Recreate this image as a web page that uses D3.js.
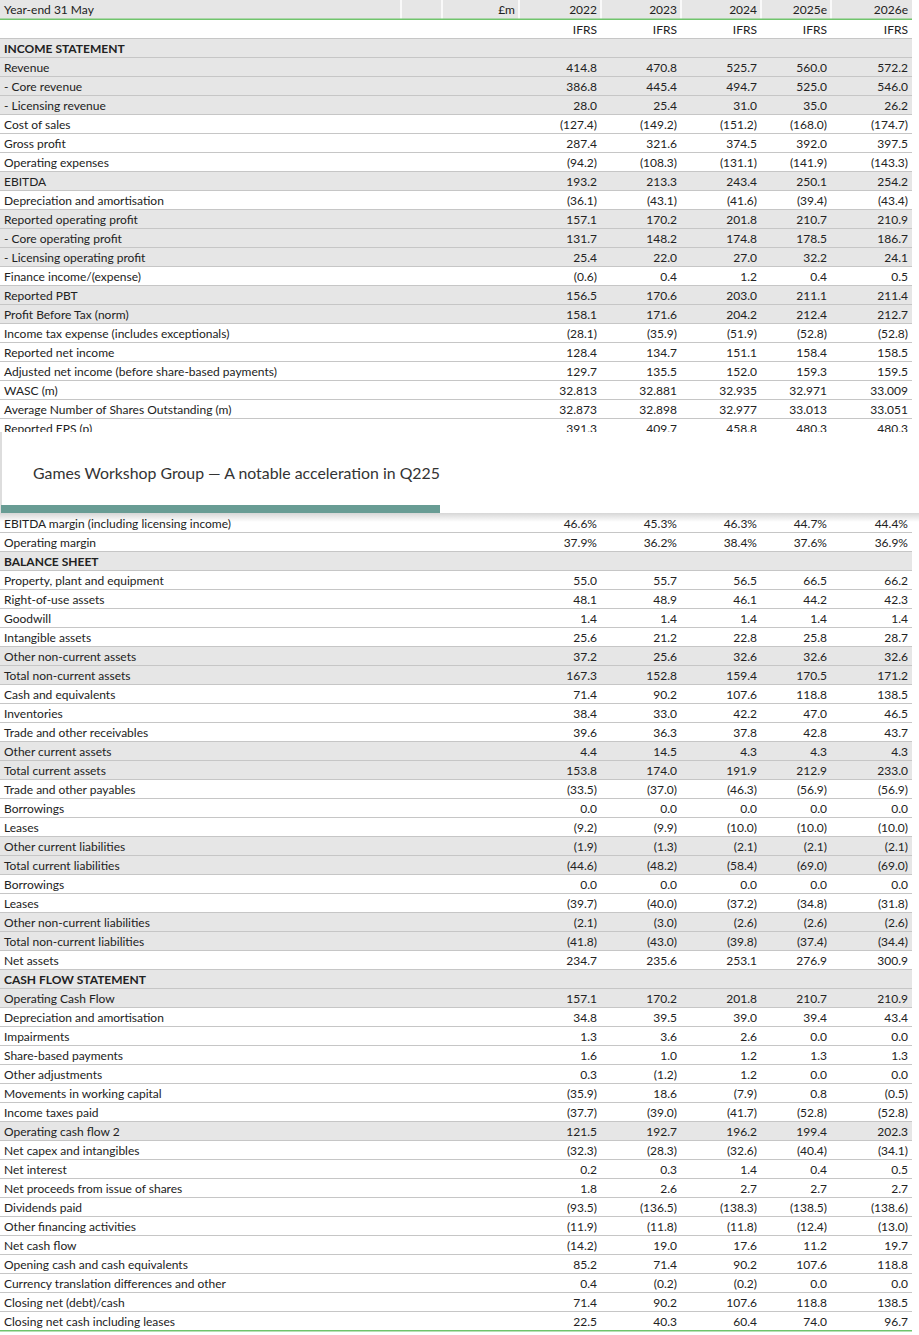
<!DOCTYPE html>
<html><head><meta charset="utf-8">
<script src="https://cdn.jsdelivr.net/npm/d3@7"></script>
<style>html,body{margin:0;padding:0;background:#fff;}svg{display:block;font-family:Lato,"Noto Sans",sans-serif;}</style>
</head><body><div id="chart"></div>
<script>
// ---------- DATA ----------
const title = "Games Workshop Group \u2014 A notable acceleration in Q225";
const headerLabel = "Year-end 31 May";
const unitLabel = "\u00a3m";
const years = ["2022", "2023", "2024", "2025e", "2026e"];
const standard = ["IFRS", "IFRS", "IFRS", "IFRS", "IFRS"];

// visible rows above the title panel
const labelsTop = [
  "INCOME STATEMENT", "Revenue", "- Core revenue", "- Licensing revenue", "Cost of sales", "Gross profit",
  "Operating expenses", "EBITDA", "Depreciation and amortisation", "Reported operating profit",
  "- Core operating profit", "- Licensing operating profit", "Finance income/(expense)", "Reported PBT",
  "Profit Before Tax (norm)", "Income tax expense (includes exceptionals)", "Reported net income",
  "Adjusted net income (before share-based payments)", "WASC (m)", "Average Number of Shares Outstanding (m)",
  "Reported EPS (p)"
];
// visible rows below the title panel
const labelsBottom = [
  "EBITDA margin (including licensing income)", "Operating margin", "BALANCE SHEET",
  "Property, plant and equipment", "Right-of-use assets", "Goodwill", "Intangible assets",
  "Other non-current assets", "Total non-current assets", "Cash and equivalents", "Inventories",
  "Trade and other receivables", "Other current assets", "Total current assets", "Trade and other payables",
  "Borrowings", "Leases", "Other current liabilities", "Total current liabilities", "Borrowings", "Leases",
  "Other non-current liabilities", "Total non-current liabilities", "Net assets", "CASH FLOW STATEMENT",
  "Operating Cash Flow", "Depreciation and amortisation", "Impairments", "Share-based payments",
  "Other adjustments", "Movements in working capital", "Income taxes paid", "Operating cash flow 2",
  "Net capex and intangibles", "Net interest", "Net proceeds from issue of shares", "Dividends paid",
  "Other financing activities", "Net cash flow", "Opening cash and cash equivalents",
  "Currency translation differences and other", "Closing net (debt)/cash", "Closing net cash including leases"
];

const sectionHeads = ["INCOME STATEMENT", "BALANCE SHEET", "CASH FLOW STATEMENT"];
const shareRows = ["WASC (m)", "Average Number of Shares Outstanding (m)"];
const marginRows = ["EBITDA margin (including licensing income)", "Operating margin"];

const v2022 = [null,414.8,386.8,28.0,-127.4,287.4,-94.2,193.2,-36.1,157.1,131.7,25.4,-0.6,156.5,158.1,-28.1,128.4,129.7,32.813,32.873,391.3,
  46.6,37.9,null,55.0,48.1,1.4,25.6,37.2,167.3,71.4,38.4,39.6,4.4,153.8,-33.5,0.0,-9.2,-1.9,-44.6,0.0,-39.7,-2.1,-41.8,234.7,null,
  157.1,34.8,1.3,1.6,0.3,-35.9,-37.7,121.5,-32.3,0.2,1.8,-93.5,-11.9,-14.2,85.2,0.4,71.4,22.5];
const v2023 = [null,470.8,445.4,25.4,-149.2,321.6,-108.3,213.3,-43.1,170.2,148.2,22.0,0.4,170.6,171.6,-35.9,134.7,135.5,32.881,32.898,409.7,
  45.3,36.2,null,55.7,48.9,1.4,21.2,25.6,152.8,90.2,33.0,36.3,14.5,174.0,-37.0,0.0,-9.9,-1.3,-48.2,0.0,-40.0,-3.0,-43.0,235.6,null,
  170.2,39.5,3.6,1.0,-1.2,18.6,-39.0,192.7,-28.3,0.3,2.6,-136.5,-11.8,19.0,71.4,-0.2,90.2,40.3];
const v2024 = [null,525.7,494.7,31.0,-151.2,374.5,-131.1,243.4,-41.6,201.8,174.8,27.0,1.2,203.0,204.2,-51.9,151.1,152.0,32.935,32.977,458.8,
  46.3,38.4,null,56.5,46.1,1.4,22.8,32.6,159.4,107.6,42.2,37.8,4.3,191.9,-46.3,0.0,-10.0,-2.1,-58.4,0.0,-37.2,-2.6,-39.8,253.1,null,
  201.8,39.0,2.6,1.2,1.2,-7.9,-41.7,196.2,-32.6,1.4,2.7,-138.3,-11.8,17.6,90.2,-0.2,107.6,60.4];
const v2025e = [null,560.0,525.0,35.0,-168.0,392.0,-141.9,250.1,-39.4,210.7,178.5,32.2,0.4,211.1,212.4,-52.8,158.4,159.3,32.971,33.013,480.3,
  44.7,37.6,null,66.5,44.2,1.4,25.8,32.6,170.5,118.8,47.0,42.8,4.3,212.9,-56.9,0.0,-10.0,-2.1,-69.0,0.0,-34.8,-2.6,-37.4,276.9,null,
  210.7,39.4,0.0,1.3,0.0,0.8,-52.8,199.4,-40.4,0.4,2.7,-138.5,-12.4,11.2,107.6,0.0,118.8,74.0];
const v2026e = [null,572.2,546.0,26.2,-174.7,397.5,-143.3,254.2,-43.4,210.9,186.7,24.1,0.5,211.4,212.7,-52.8,158.5,159.5,33.009,33.051,480.3,
  44.4,36.9,null,66.2,42.3,1.4,28.7,32.6,171.2,138.5,46.5,43.7,4.3,233.0,-56.9,0.0,-10.0,-2.1,-69.0,0.0,-31.8,-2.6,-34.4,300.9,null,
  210.9,43.4,0.0,1.3,0.0,-0.5,-52.8,202.3,-34.1,0.5,2.7,-138.6,-13.0,19.7,118.8,0.0,138.5,96.7];

// rows drawn with grey fill
const shadedLabels = new Set([
  "INCOME STATEMENT","Revenue","- Core revenue","- Licensing revenue","EBITDA","Reported operating profit",
  "- Core operating profit","- Licensing operating profit","Reported PBT","Profit Before Tax (norm)",
  "BALANCE SHEET","Other non-current assets","Total non-current assets","Other current assets","Total current assets",
  "Other current liabilities","Total current liabilities","Other non-current liabilities","Total non-current liabilities",
  "CASH FLOW STATEMENT","Operating Cash Flow","Operating cash flow 2"
]);

// ---------- LAYOUT ----------
const W = 919, H = 1335, rowH = 19, tableW = 912;
const colEdges = [0, 401, 442, 519, 601, 681, 761, 831, 912];
const hiddenRows = 4; // rows hidden behind the title panel
const grey = "#e6e6e6", lineC = "#c6c6c6", textC = "#222", green = "#70c46c", teal = "#689c94";

const allLabels = labelsTop.concat(labelsBottom);
const series = [v2022, v2023, v2024, v2025e, v2026e];
const rows = allLabels.map((lab, i) => ({
  label: lab,
  idx: i < labelsTop.length ? i + 2 : i + 2 + hiddenRows,
  values: series.map(s => s[i])
}));

// body rows start 1px lower because of the green rule under the header
const y = d3.scaleLinear().domain([0, 1]).range([0, rowH]);
const yb = i => y(i) + (i >= 1 ? 1 : 0);
const fmt1 = d3.format(".1f"), fmt3 = d3.format(".3f");
function fmt(v, lab) {
  if (v == null) return "";
  if (shareRows.includes(lab)) return fmt3(v);
  if (marginRows.includes(lab)) return fmt1(v) + "%";
  return v < 0 ? "(" + fmt1(-v) + ")" : fmt1(v);
}

const svg = d3.select("#chart").append("svg").attr("width", W).attr("height", H);
const fontSize = 12;

// header row
svg.append("rect").attr("x", 0).attr("y", 0).attr("width", tableW).attr("height", rowH).attr("fill", grey);
svg.selectAll("line.sep").data(colEdges.slice(1, -1)).join("line")
  .attr("x1", d => d).attr("x2", d => d).attr("y1", 0).attr("y2", rowH)
  .attr("stroke", "#fff").attr("stroke-width", 1.5);
svg.append("text").attr("x", 4).attr("y", 14).attr("font-size", fontSize).attr("fill", textC).text(headerLabel);
svg.append("text").attr("x", colEdges[3] - 4).attr("y", 14).attr("text-anchor", "end")
  .attr("font-size", fontSize).attr("fill", textC).text(unitLabel);
svg.selectAll("text.yr").data(years).join("text")
  .attr("x", (d, i) => colEdges[i + 4] - 4).attr("y", 14).attr("text-anchor", "end")
  .attr("font-size", fontSize).attr("fill", textC).text(d => d);
// IFRS row
svg.selectAll("text.std").data(standard).join("text")
  .attr("x", (d, i) => colEdges[i + 4] - 4).attr("y", yb(1) + 14).attr("text-anchor", "end")
  .attr("font-size", fontSize).attr("fill", textC).text(d => d);
svg.append("line").attr("x1", 0).attr("x2", tableW).attr("y1", yb(2) - 0.5).attr("y2", yb(2) - 0.5)
  .attr("stroke", lineC);

// body rows
const g = svg.selectAll("g.row").data(rows).join("g").attr("transform", d => `translate(0,${yb(d.idx)})`);
g.append("rect").attr("width", tableW).attr("height", rowH)
  .attr("fill", d => shadedLabels.has(d.label) ? grey : "#fff");
g.append("line").attr("x1", 0).attr("x2", tableW).attr("y1", rowH - 0.5).attr("y2", rowH - 0.5)
  .attr("stroke", lineC);
g.append("text").attr("x", 4).attr("y", 14).attr("font-size", fontSize).attr("fill", textC)
  .attr("font-weight", d => sectionHeads.includes(d.label) ? "bold" : null).text(d => d.label);
g.selectAll("text.v").data(d => d.values.map(v => ({ v, lab: d.label }))).join("text")
  .attr("x", (d, i) => colEdges[i + 4] - 4).attr("y", 14).attr("text-anchor", "end")
  .attr("font-size", fontSize).attr("fill", textC).text(d => fmt(d.v, d.lab));

// green rules
svg.append("rect").attr("x", 0).attr("y", rowH - 0.5).attr("width", tableW).attr("height", 1.5).attr("fill", green);
const lastIdx = rows[rows.length - 1].idx;
svg.append("rect").attr("x", 0).attr("y", yb(lastIdx + 1) - 1).attr("width", tableW).attr("height", 1.5).attr("fill", green);

// title panel overlaying the table
const pTop = 432, pBot = 513;
const defs = svg.append("defs");
const grad = defs.append("linearGradient").attr("id", "sh").attr("x1", 0).attr("x2", 0).attr("y1", 0).attr("y2", 1);
grad.append("stop").attr("offset", 0).attr("stop-color", "#000").attr("stop-opacity", 0.16);
grad.append("stop").attr("offset", 1).attr("stop-color", "#000").attr("stop-opacity", 0);
svg.append("rect").attr("x", 0).attr("y", pBot).attr("width", W).attr("height", 9).attr("fill", "url(#sh)");
svg.append("rect").attr("x", 0).attr("y", pTop).attr("width", W).attr("height", pBot - pTop).attr("fill", "#fff");
svg.append("line").attr("x1", 1).attr("x2", 1).attr("y1", pTop).attr("y2", pBot).attr("stroke", "#bbb");
svg.append("rect").attr("x", 1).attr("y", 505).attr("width", 439).attr("height", 8).attr("fill", teal);
svg.append("text").attr("x", 33).attr("y", 479).attr("font-size", 15.85).attr("fill", "#333").text(title);
</script></body></html>
